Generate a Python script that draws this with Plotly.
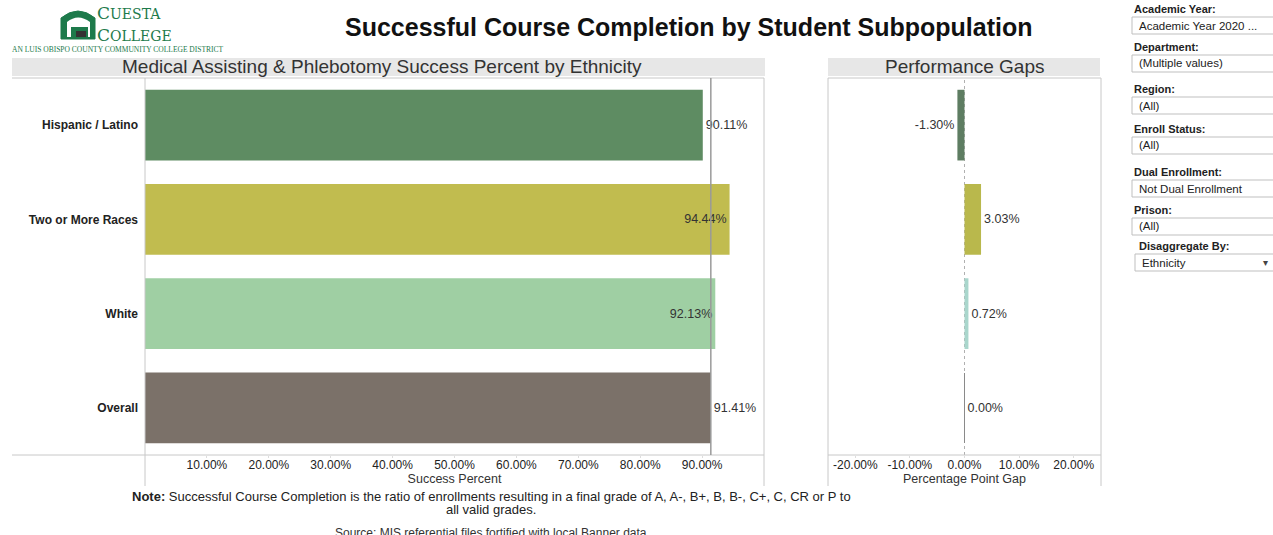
import plotly.graph_objects as go

W, H = 1273, 535

categories = ["Hispanic / Latino", "Two or More Races", "White", "Overall"]
success_pct = [90.11, 94.44, 92.13, 91.41]
gap_pct = [-1.30, 3.03, 0.72, 0.00]
bar_colors = ["#5e8c62", "#c1bc4f", "#9fcfa3", "#7b7169"]
gap_colors = ["#5e7d62", "#b9b84c", "#a9d6cc", "#7b7169"]
left_text_pos = ["outside", "inside", "inside", "outside"]
success_ticks = [10, 20, 30, 40, 50, 60, 70, 80, 90]
gap_ticks = [-20, -10, 0, 10, 20]

filters = [
    ("Academic Year:", "Academic Year 2020 ..."),
    ("Department:", "(Multiple values)"),
    ("Region:", "(All)"),
    ("Enroll Status:", "(All)"),
    ("Dual Enrollment:", "Not Dual Enrollment"),
    ("Prison:", "(All)"),
    ("Disaggregate By:", "Ethnicity"),
]
filter_label_y = [9, 47, 89, 129, 172, 210, 246]
filter_box_y = [17, 55, 97, 137, 180, 218, 254]


def px(x):
    return x / W


def py(y):
    return 1 - y / H


FONT = "Liberation Sans, Arial, sans-serif"

fig = go.Figure()
fig.add_trace(go.Bar(
    y=categories, x=success_pct, orientation="h",
    marker=dict(color=bar_colors, line=dict(width=0)),
    width=0.75,
    text=[f"{v:.2f}%" for v in success_pct],
    textposition=left_text_pos,
    insidetextanchor="end",
    constraintext="none",
    textfont=dict(family=FONT, size=12.5, color="#333333"),
    cliponaxis=False,
    xaxis="x", yaxis="y", showlegend=False,
))
fig.add_trace(go.Bar(
    y=categories, x=gap_pct, orientation="h",
    marker=dict(color=gap_colors, line=dict(width=0)),
    width=0.75,
    text=[f"{v:.2f}%" for v in gap_pct],
    textposition="outside",
    constraintext="none",
    textfont=dict(family=FONT, size=12.5, color="#333333"),
    cliponaxis=False,
    xaxis="x2", yaxis="y2", showlegend=False,
))

x1_dom = [px(145), px(764)]
x2_dom = [px(828), px(1101)]
y_dom = [py(455), py(78)]

fig.update_layout(
    width=W, height=H,
    margin=dict(l=0, r=0, t=0, b=0),
    paper_bgcolor="white", plot_bgcolor="white",
    font=dict(family=FONT, color="#333333"),
    bargap=0.25,
    xaxis=dict(domain=x1_dom, range=[0, 100], tickvals=success_ticks,
               ticktext=[f"{t:.2f}%" for t in success_ticks],
               tickfont=dict(size=12, color="#222222"),
               showgrid=False, zeroline=False, showline=False,
               ticks="outside", ticklen=2, tickcolor="#dddddd", ticklabelstandoff=-3,
               title=dict(text="Success Percent", font=dict(size=12.5, color="#333333"), standoff=0),
               anchor="y", fixedrange=True),
    yaxis=dict(domain=y_dom, categoryorder="array", categoryarray=categories,
               autorange="reversed", showgrid=False, zeroline=False, showline=False,
               tickfont=dict(size=12, color="#222222", family=FONT, weight="bold"),
               ticks="", ticklabelstandoff=6, anchor="x", fixedrange=True),
    xaxis2=dict(domain=x2_dom, range=[-25, 25], tickvals=gap_ticks,
                ticktext=[f"{t:.2f}%" for t in gap_ticks],
                tickfont=dict(size=12, color="#222222"),
                showgrid=False, zeroline=False, showline=False,
                ticks="outside", ticklen=2, tickcolor="#dddddd", ticklabelstandoff=-3,
                title=dict(text="Percentage Point Gap", font=dict(size=12.5, color="#333333"), standoff=0),
                anchor="y2", fixedrange=True),
    yaxis2=dict(domain=y_dom, categoryorder="array", categoryarray=categories,
                autorange="reversed", showticklabels=False, showgrid=False,
                zeroline=False, showline=False, anchor="x2", fixedrange=True),
)

shapes = []
shapes.append(dict(type="rect", xref="paper", yref="paper", x0=px(12), x1=px(765), y0=py(76), y1=py(58),
                   fillcolor="#e7e7e7", line=dict(width=0), layer="below"))
shapes.append(dict(type="rect", xref="paper", yref="paper", x0=px(828), x1=px(1100), y0=py(76), y1=py(58),
                   fillcolor="#e7e7e7", line=dict(width=0), layer="below"))
line_c = "#c8c8c8"
shapes += [
    dict(type="line", xref="paper", yref="paper", x0=px(12), x1=px(764), y0=py(78), y1=py(78), line=dict(color=line_c, width=1)),
    dict(type="line", xref="paper", yref="paper", x0=px(12), x1=px(764), y0=py(455), y1=py(455), line=dict(color=line_c, width=1)),
    dict(type="line", xref="paper", yref="paper", x0=px(145), x1=px(145), y0=py(78), y1=py(486), line=dict(color=line_c, width=1)),
    dict(type="line", xref="paper", yref="paper", x0=px(764), x1=px(764), y0=py(78), y1=py(486), line=dict(color=line_c, width=1)),
    dict(type="line", xref="paper", yref="paper", x0=px(828), x1=px(1101), y0=py(78), y1=py(78), line=dict(color=line_c, width=1)),
    dict(type="line", xref="paper", yref="paper", x0=px(828), x1=px(1101), y0=py(455), y1=py(455), line=dict(color=line_c, width=1)),
    dict(type="line", xref="paper", yref="paper", x0=px(828), x1=px(828), y0=py(78), y1=py(486), line=dict(color=line_c, width=1)),
    dict(type="line", xref="paper", yref="paper", x0=px(1101), x1=px(1101), y0=py(78), y1=py(486), line=dict(color=line_c, width=1)),
]
shapes.append(dict(type="line", xref="x", yref="paper", x0=success_pct[-1], x1=success_pct[-1],
                   y0=py(455), y1=py(78), line=dict(color="#9a9a9a", width=1.5)))
shapes.append(dict(type="line", xref="x2", yref="paper", x0=0, x1=0, y0=py(455), y1=py(78),
                   line=dict(color="#b0b0b0", width=1, dash="dot"), layer="below"))
shapes.append(dict(type="line", xref="x2", yref="paper", x0=0, x1=0, y0=py(373), y1=py(443),
                   line=dict(color="#8a8a8a", width=1)))

# logo
green = "#1d7a4b"
shapes.append(dict(type="path", xref="paper", yref="paper",
                   path=f"M {px(61)} {py(39)} L {px(61)} {py(18)} Q {px(78)} {py(4)} {px(95)} {py(18)} L {px(95)} {py(39)} Z",
                   fillcolor=green, line=dict(color=green, width=1)))
shapes.append(dict(type="path", xref="paper", yref="paper",
                   path=f"M {px(67)} {py(37)} L {px(67)} {py(22)} Q {px(78)} {py(13)} {px(90)} {py(22)} L {px(90)} {py(37)} Z",
                   fillcolor="white", line=dict(width=0)))
shapes.append(dict(type="rect", xref="paper", yref="paper", x0=px(71), x1=px(88), y0=py(37), y1=py(27),
                   fillcolor=green, line=dict(width=0)))
shapes.append(dict(type="rect", xref="paper", yref="paper", x0=px(76), x1=px(86), y0=py(37), y1=py(31),
                   fillcolor="#333333", line=dict(width=0)))

for i, (lab, val) in enumerate(filters):
    bx = 1135 if i == 6 else 1132
    shapes.append(dict(type="rect", xref="paper", yref="paper", x0=px(bx), x1=px(1285),
                       y0=py(filter_box_y[i] + 17), y1=py(filter_box_y[i]),
                       fillcolor="white", line=dict(color="#bfbfbf", width=1)))

fig.update_layout(shapes=shapes)

ann = []
ann.append(dict(text="<b>Successful Course Completion by Student Subpopulation</b>", x=px(689), y=py(27),
                xref="paper", yref="paper", showarrow=False, font=dict(size=25, color="#111111"),
                xanchor="center", yanchor="middle"))
ann.append(dict(text="Medical Assisting & Phlebotomy Success Percent by Ethnicity", x=px(382), y=py(67),
                xref="paper", yref="paper", showarrow=False, font=dict(size=19, color="#333333"),
                xanchor="center", yanchor="middle"))
ann.append(dict(text="Performance Gaps", x=px(964), y=py(67),
                xref="paper", yref="paper", showarrow=False, font=dict(size=19, color="#333333"),
                xanchor="center", yanchor="middle"))
ann.append(dict(text="C<span style='font-size:14px'>UESTA</span>",
                x=px(96), y=py(24), xref="paper", yref="paper", showarrow=False, borderpad=0,
                font=dict(family="DejaVu Serif, serif", size=17, color=green),
                xanchor="left", yanchor="bottom"))
ann.append(dict(text="C<span style='font-size:14px'>OLLEGE</span>",
                x=px(96), y=py(24), xref="paper", yref="paper", showarrow=False, borderpad=0,
                font=dict(family="DejaVu Serif, serif", size=17, color=green),
                xanchor="left", yanchor="top"))
ann.append(dict(text="AN LUIS OBISPO COUNTY COMMUNITY COLLEGE DISTRICT", x=px(11), y=py(44),
                xref="paper", yref="paper", showarrow=False, borderpad=0,
                font=dict(family="Liberation Serif, serif", size=7.5, color=green),
                xanchor="left", yanchor="top"))
for i, (lab, val) in enumerate(filters):
    lx = 1137 if i == 6 else 1132
    ann.append(dict(text=f"<b>{lab}</b>", x=px(lx), y=py(filter_label_y[i]),
                    xref="paper", yref="paper", showarrow=False,
                    font=dict(size=11, color="#222222"), xanchor="left", yanchor="middle"))
    bx = 1140 if i == 6 else 1137
    ann.append(dict(text=val, x=px(bx), y=py(filter_box_y[i] + 8.5),
                    xref="paper", yref="paper", showarrow=False,
                    font=dict(size=11.5, color="#222222"), xanchor="left", yanchor="middle"))
ann.append(dict(text="▾", x=px(1270), y=py(262), xref="paper", yref="paper", showarrow=False,
                font=dict(size=10, color="#444444"), xanchor="right", yanchor="middle"))
ann.append(dict(text="<b>Note:</b> Successful Course Completion is the ratio of enrollments resulting in a final grade of A, A-, B+, B, B-, C+, C, CR or P to",
                x=px(491), y=py(496), xref="paper", yref="paper", showarrow=False,
                font=dict(size=13, color="#222222"), xanchor="center", yanchor="middle"))
ann.append(dict(text="all valid grades.", x=px(491), y=py(509), xref="paper", yref="paper", showarrow=False,
                font=dict(size=13, color="#222222"), xanchor="center", yanchor="middle"))
ann.append(dict(text="Source: MIS referential files fortified with local Banner data", x=px(491), y=py(533),
                xref="paper", yref="paper", showarrow=False,
                font=dict(size=12, color="#333333"), xanchor="center", yanchor="middle"))
fig.update_layout(annotations=ann)

fig.write_html("out.html", config={"displayModeBar": False},
               post_script="document.body.style.margin='0';document.body.style.padding='0';document.body.style.overflow='hidden';")
